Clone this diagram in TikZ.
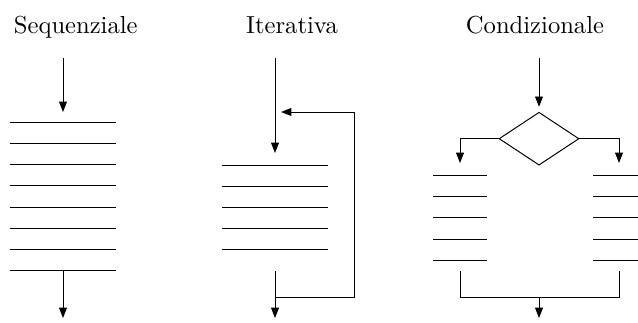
\documentclass[tikz,border=0pt]{standalone}
\usetikzlibrary{shapes.geometric,arrows.meta}
\tikzset{every picture/.style={line width=0.4pt}}
\tikzset{flow/.style={-{Triangle[length=4.2pt,width=3.2pt]}},
  title/.style={anchor=base,inner sep=0pt}}

\begin{document}
\begin{tikzpicture}[x=0.4065pt,y=0.4065pt,yscale=-1,xscale=1]
\useasboundingbox (0,0) rectangle (638,322);

% Text Node
\draw (75.8,34) node [title] (seqT) {Sequenziale};
% Text Node
\draw (292,34) node [title] (itT) {Iterativa};
% Text Node
\draw (535,34) node [title] (cdT) {Condizionale};

%Sequenziale
\coordinate (seqIn) at (63,58);
\coordinate (seqTop) at (63,112);
\coordinate (seqEnd) at (63,270);
\coordinate (seqOut) at (63,318);
\draw [flow] (seqIn) -- (seqTop);
\foreach \y in {122,143,164,185,207,228,249,270}
  \draw (10,\y) -- (116,\y);
\draw [flow] (seqEnd) -- (seqOut);

%Iterativa
\coordinate (itIn) at (275,58);
\coordinate (itTop) at (275,153);
\coordinate (itEnd) at (275,271);
\coordinate (itOut) at (275,318);
\coordinate (itLoop) at (275,297);
\coordinate (itUp) at (354,112);
\coordinate (itBack) at (281,112);
\draw [flow] (itIn) -- (itTop);
\foreach \y in {165,186,207,228,249}
  \draw (222,\y) -- (328,\y);
\draw [flow] (itEnd) -- (itOut);
\draw [flow] (itLoop) -| (itUp) -- (itBack);

%Condizionale
\coordinate (cdIn) at (539,58);
\node [diamond,draw,inner sep=0pt,minimum width=32.5pt,minimum height=21.5pt] (dec) at (539,138.7) {};
\coordinate (cdL) at (460,163);
\coordinate (cdR) at (619,163);
\coordinate (cdLend) at (460,271);
\coordinate (cdRend) at (619,271);
\coordinate (cdLjoin) at (460,297);
\coordinate (cdRjoin) at (619,297);
\coordinate (cdJoin) at (539,297);
\coordinate (cdOut) at (539,318);
\draw [flow,shorten >=2pt] (cdIn) -- (dec.north);
\draw [flow] (dec.west) -| (cdL);
\draw [flow] (dec.east) -| (cdR);
\foreach \y in {175,196,217,239,260}{
  \draw (433,\y) -- (487,\y);
  \draw (593,\y) -- (638,\y);
}
\draw (cdLend) -- (cdLjoin) -- (cdRjoin) -- (cdRend);
\draw [flow] (cdJoin) -- (cdOut);

\end{tikzpicture}
\end{document}
